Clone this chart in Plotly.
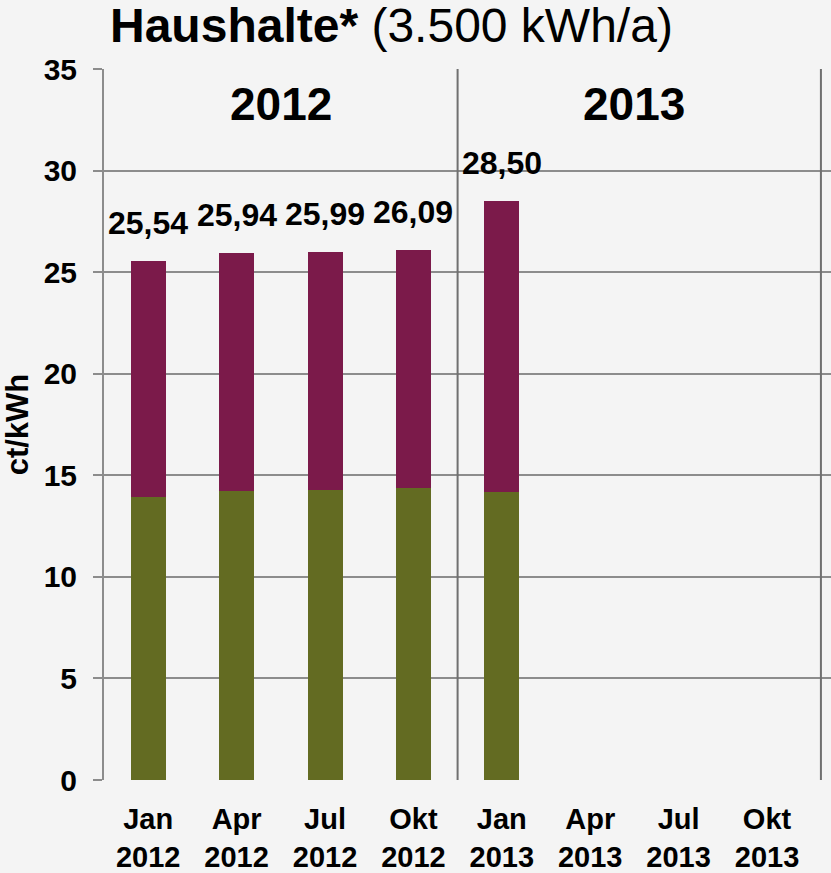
import plotly.graph_objects as go

categories = ["Jan<br>2012", "Apr<br>2012", "Jul<br>2012", "Okt<br>2012",
              "Jan<br>2013", "Apr<br>2013", "Jul<br>2013", "Okt<br>2013"]
lower = [13.93, 14.21, 14.26, 14.36, 14.16, None, None, None]
totals = [25.54, 25.94, 25.99, 26.09, 28.50, None, None, None]
total_labels = ["25,54", "25,94", "25,99", "26,09", "28,50", "", "", ""]
upper = [t - l if t is not None else None for t, l in zip(totals, lower)]
year_labels = ["2012", "2013"]
y_ticks = [0, 5, 10, 15, 20, 25, 30, 35]

GREEN = "#636B22"
MAROON = "#7B1A4A"
GRID = "#8C8C8C"
BG = "#F4F4F4"
FONT = "Liberation Sans, Arial, sans-serif"

xs = list(range(len(categories)))

fig = go.Figure()
fig.add_trace(go.Bar(x=xs, y=lower, marker_color=GREEN, width=0.396,
                     marker_line_width=0, name="lower"))
fig.add_trace(go.Bar(x=xs, y=upper, marker_color=MAROON, width=0.396,
                     marker_line_width=0, name="upper"))

for x, t, lab in zip(xs, totals, total_labels):
    if t is None:
        continue
    fig.add_annotation(x=x, y=t, text=f"<b>{lab}</b>", showarrow=False,
                       xanchor="center", yanchor="bottom", yshift=18,
                       font=dict(size=32, color="black", family=FONT))

for i, yl in enumerate(year_labels):
    fig.add_annotation(x=1.5 + 4 * i, y=33.3, text=f"<b>{yl}</b>", showarrow=False,
                       xanchor="center", yanchor="middle",
                       font=dict(size=46, color="black", family=FONT))

# separators
for xv in [3.5, 7.61]:
    fig.add_shape(type="line", x0=xv, x1=xv, y0=0, y1=35, xref="x", yref="y",
                  line=dict(color="#707070", width=2), layer="above")

fig.add_annotation(xref="paper", yref="paper", x=0.0055, y=1.0609,
                   text="<b>Haushalte*</b> (3.500 kWh/a)", showarrow=False,
                   xanchor="left", yanchor="middle",
                   font=dict(size=48, color="black", family=FONT))

fig.update_layout(
    width=831, height=873,
    margin=dict(l=104, r=0, t=69, b=90),
    paper_bgcolor=BG, plot_bgcolor=BG,
    barmode="stack", showlegend=False,
    font=dict(family=FONT, color="black"),
)
fig.update_xaxes(range=[-0.5, 7.724], tickmode="array", tickvals=xs,
                 ticktext=[f"<b>{c}</b>" for c in categories],
                 tickfont=dict(size=29, family=FONT, color="black"),
                 showgrid=False, zeroline=False, showline=False, ticks="",
                 ticklabelstandoff=19)
fig.update_yaxes(range=[0, 35], tickmode="array", tickvals=y_ticks,
                 ticktext=[f"<b>{v}</b>" for v in y_ticks],
                 tickfont=dict(size=30, family=FONT, color="black"),
                 showgrid=True, gridcolor=GRID, gridwidth=2,
                 zeroline=False, showline=True, linecolor=GRID, linewidth=2,
                 ticks="outside", ticklen=9, tickcolor=GRID, tickwidth=2,
                 ticklabelstandoff=10,
                 title=dict(text="<b>ct/kWh</b>", standoff=12,
                            font=dict(size=31, family=FONT, color="black")))

fig.write_html("out.html", config={"displayModeBar": False},
               post_script="document.body.style.margin='0';"
                           "document.body.style.background='#F4F4F4';")
